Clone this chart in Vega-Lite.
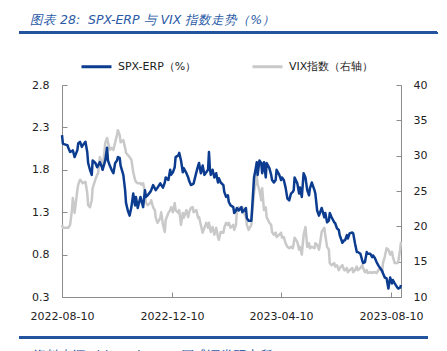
{
  "$schema": "https://vega.github.io/schema/vega-lite/v6.json",
  "width": 339,
  "height": 212,
  "autosize": "none",
  "padding": {"left": 62, "top": 85, "right": 46, "bottom": 54},
  "background": "white",
  "config": {"view": {"stroke": null}},
  "title": {"text": "图表 28: \u00a0SPX-ERP 与 VIX 指数走势（%）", "anchor": "start", "frame": "group", "dx": -32, "offset": 5, "font": "DejaVu Sans", "fontSize": 12.5, "fontStyle": "italic", "fontWeight": "normal", "color": "#2a5aa6"},
  "data": {"values": [
    {"date":"2022-08-10","erp":2.21,"vix":20.2},{"date":"2022-08-11","erp":2.11,"vix":19.8},{"date":"2022-08-13","erp":2.10,"vix":19.8},{"date":"2022-08-16","erp":2.09,"vix":19.8},{"date":"2022-08-17","erp":2.06,"vix":19.8},{"date":"2022-08-19","erp":2.01,"vix":20.2},{"date":"2022-08-21","erp":2.02,"vix":22.3},{"date":"2022-08-22","erp":2.03,"vix":24.0},{"date":"2022-08-24","erp":1.95,"vix":21.9},{"date":"2022-08-27","erp":2.03,"vix":25.1},{"date":"2022-08-28","erp":2.11,"vix":25.9},{"date":"2022-08-30","erp":2.13,"vix":26.6},
    {"date":"2022-09-01","erp":2.07,"vix":26.3},{"date":"2022-09-02","erp":2.09,"vix":26.1},{"date":"2022-09-05","erp":2.13,"vix":26.3},{"date":"2022-09-07","erp":2.01,"vix":24.7},{"date":"2022-09-08","erp":1.88,"vix":23.0},{"date":"2022-09-10","erp":1.80,"vix":22.7},{"date":"2022-09-12","erp":1.74,"vix":23.7},{"date":"2022-09-13","erp":1.91,"vix":25.4},{"date":"2022-09-16","erp":1.88,"vix":26.6},{"date":"2022-09-18","erp":1.83,"vix":27.3},{"date":"2022-09-19","erp":1.85,"vix":27.5},{"date":"2022-09-21","erp":1.89,"vix":29.8},{"date":"2022-09-23","erp":1.84,"vix":29.1},{"date":"2022-09-24","erp":1.80,"vix":28.0},{"date":"2022-09-27","erp":1.91,"vix":31.8},{"date":"2022-09-29","erp":2.06,"vix":32.5},{"date":"2022-09-30","erp":1.91,"vix":31.9},
    {"date":"2022-10-02","erp":1.85,"vix":30.8},{"date":"2022-10-04","erp":1.80,"vix":31.1},{"date":"2022-10-06","erp":1.76,"vix":30.8},{"date":"2022-10-08","erp":1.88,"vix":31.9},{"date":"2022-10-10","erp":1.91,"vix":32.9},{"date":"2022-10-11","erp":1.95,"vix":33.6},{"date":"2022-10-13","erp":1.94,"vix":32.9},{"date":"2022-10-14","erp":1.85,"vix":31.9},{"date":"2022-10-17","erp":1.74,"vix":32.2},{"date":"2022-10-19","erp":1.56,"vix":31.1},{"date":"2022-10-20","erp":1.41,"vix":30.4},{"date":"2022-10-22","erp":1.32,"vix":30.1},{"date":"2022-10-24","erp":1.26,"vix":29.8},{"date":"2022-10-26","erp":1.36,"vix":29.4},{"date":"2022-10-28","erp":1.52,"vix":27.7},{"date":"2022-10-30","erp":1.38,"vix":26.6},{"date":"2022-10-31","erp":1.48,"vix":26.3},
    {"date":"2022-11-02","erp":1.35,"vix":26.1},{"date":"2022-11-05","erp":1.48,"vix":26.1},{"date":"2022-11-06","erp":1.44,"vix":25.9},{"date":"2022-11-08","erp":1.36,"vix":26.1},{"date":"2022-11-10","erp":1.56,"vix":24.9},{"date":"2022-11-11","erp":1.48,"vix":23.4},{"date":"2022-11-13","erp":1.50,"vix":23.0},{"date":"2022-11-16","erp":1.54,"vix":23.3},{"date":"2022-11-17","erp":1.56,"vix":23.7},{"date":"2022-11-19","erp":1.62,"vix":22.7},{"date":"2022-11-21","erp":1.58,"vix":22.3},{"date":"2022-11-22","erp":1.56,"vix":21.2},{"date":"2022-11-24","erp":1.59,"vix":20.5},{"date":"2022-11-27","erp":1.64,"vix":21.2},{"date":"2022-11-28","erp":1.62,"vix":22.0},{"date":"2022-11-30","erp":1.59,"vix":20.2},
    {"date":"2022-12-02","erp":1.65,"vix":19.2},{"date":"2022-12-03","erp":1.71,"vix":20.9},{"date":"2022-12-06","erp":1.68,"vix":21.9},{"date":"2022-12-08","erp":1.80,"vix":22.3},{"date":"2022-12-09","erp":1.74,"vix":22.7},{"date":"2022-12-11","erp":1.77,"vix":22.0},{"date":"2022-12-13","erp":1.83,"vix":23.3},{"date":"2022-12-14","erp":1.95,"vix":22.3},{"date":"2022-12-17","erp":1.97,"vix":21.9},{"date":"2022-12-18","erp":2.00,"vix":22.3},{"date":"2022-12-20","erp":1.91,"vix":20.2},{"date":"2022-12-22","erp":1.77,"vix":21.9},{"date":"2022-12-23","erp":1.82,"vix":21.2},{"date":"2022-12-26","erp":1.76,"vix":22.3},{"date":"2022-12-28","erp":1.71,"vix":21.3},{"date":"2022-12-29","erp":1.67,"vix":22.0},{"date":"2022-12-31","erp":1.62,"vix":22.6},
    {"date":"2023-01-02","erp":1.63,"vix":22.7},{"date":"2023-01-03","erp":1.64,"vix":22.0},{"date":"2023-01-06","erp":1.77,"vix":22.3},{"date":"2023-01-08","erp":1.85,"vix":21.2},{"date":"2023-01-09","erp":1.88,"vix":21.3},{"date":"2023-01-11","erp":1.76,"vix":20.2},{"date":"2023-01-13","erp":1.85,"vix":19.1},{"date":"2023-01-15","erp":1.74,"vix":19.8},{"date":"2023-01-17","erp":1.77,"vix":20.5},{"date":"2023-01-19","erp":1.80,"vix":19.8},{"date":"2023-01-20","erp":2.01,"vix":20.5},{"date":"2023-01-21","erp":1.82,"vix":19.8},{"date":"2023-01-22","erp":1.74,"vix":19.2},{"date":"2023-01-24","erp":1.80,"vix":19.9},{"date":"2023-01-26","erp":1.71,"vix":18.8},{"date":"2023-01-28","erp":1.76,"vix":19.8},{"date":"2023-01-30","erp":1.65,"vix":18.5},{"date":"2023-01-31","erp":1.70,"vix":18.1},
    {"date":"2023-02-02","erp":1.65,"vix":19.2},{"date":"2023-02-05","erp":1.62,"vix":19.1},{"date":"2023-02-06","erp":1.54,"vix":19.8},{"date":"2023-02-08","erp":1.48,"vix":20.5},{"date":"2023-02-10","erp":1.50,"vix":20.2},{"date":"2023-02-11","erp":1.42,"vix":20.5},{"date":"2023-02-13","erp":1.38,"vix":19.8},{"date":"2023-02-16","erp":1.36,"vix":20.2},{"date":"2023-02-17","erp":1.29,"vix":19.5},{"date":"2023-02-19","erp":1.32,"vix":20.2},{"date":"2023-02-20","erp":1.35,"vix":22.3},{"date":"2023-02-22","erp":1.32,"vix":22.7},{"date":"2023-02-25","erp":1.36,"vix":22.3},{"date":"2023-02-26","erp":1.30,"vix":22.7},{"date":"2023-02-28","erp":1.32,"vix":21.9},
    {"date":"2023-03-02","erp":1.35,"vix":21.3},{"date":"2023-03-03","erp":1.23,"vix":20.2},{"date":"2023-03-05","erp":1.20,"vix":19.5},{"date":"2023-03-08","erp":1.20,"vix":20.2},{"date":"2023-03-09","erp":1.36,"vix":21.9},{"date":"2023-03-11","erp":1.71,"vix":24.7},{"date":"2023-03-13","erp":1.82,"vix":26.6},{"date":"2023-03-14","erp":1.89,"vix":27.3},{"date":"2023-03-15","erp":1.74,"vix":25.9},{"date":"2023-03-17","erp":1.91,"vix":25.1},{"date":"2023-03-19","erp":1.88,"vix":23.7},{"date":"2023-03-20","erp":1.76,"vix":25.4},{"date":"2023-03-22","erp":1.89,"vix":22.3},{"date":"2023-03-24","erp":1.71,"vix":22.7},{"date":"2023-03-25","erp":1.88,"vix":21.3},{"date":"2023-03-28","erp":1.82,"vix":20.5},{"date":"2023-03-30","erp":1.74,"vix":20.2},{"date":"2023-03-31","erp":1.68,"vix":19.2},
    {"date":"2023-04-02","erp":1.65,"vix":18.8},{"date":"2023-04-04","erp":1.68,"vix":19.1},{"date":"2023-04-05","erp":1.80,"vix":18.5},{"date":"2023-04-08","erp":1.74,"vix":18.8},{"date":"2023-04-10","erp":1.68,"vix":19.1},{"date":"2023-04-11","erp":1.71,"vix":18.4},{"date":"2023-04-13","erp":1.68,"vix":18.5},{"date":"2023-04-15","erp":1.59,"vix":17.6},{"date":"2023-04-17","erp":1.46,"vix":17.1},{"date":"2023-04-19","erp":1.44,"vix":16.9},{"date":"2023-04-21","erp":1.52,"vix":17.1},{"date":"2023-04-23","erp":1.54,"vix":16.9},{"date":"2023-04-24","erp":1.56,"vix":17.6},{"date":"2023-04-25","erp":1.71,"vix":18.4},{"date":"2023-04-28","erp":1.64,"vix":17.8},{"date":"2023-04-30","erp":1.52,"vix":16.7},
    {"date":"2023-05-01","erp":1.59,"vix":17.1},{"date":"2023-05-03","erp":1.48,"vix":16.0},{"date":"2023-05-05","erp":1.76,"vix":18.8},{"date":"2023-05-07","erp":1.71,"vix":19.9},{"date":"2023-05-09","erp":1.56,"vix":17.1},{"date":"2023-05-11","erp":1.50,"vix":17.6},{"date":"2023-05-12","erp":1.58,"vix":16.9},{"date":"2023-05-14","erp":1.65,"vix":17.1},{"date":"2023-05-17","erp":1.56,"vix":16.9},{"date":"2023-05-18","erp":1.52,"vix":17.6},{"date":"2023-05-20","erp":1.32,"vix":17.4},{"date":"2023-05-22","erp":1.26,"vix":16.7},{"date":"2023-05-23","erp":1.29,"vix":17.4},{"date":"2023-05-25","erp":1.35,"vix":19.2},{"date":"2023-05-28","erp":1.24,"vix":19.8},{"date":"2023-05-29","erp":1.29,"vix":18.8},{"date":"2023-05-31","erp":1.18,"vix":17.1},
    {"date":"2023-06-02","erp":1.20,"vix":16.7},{"date":"2023-06-03","erp":1.29,"vix":14.8},{"date":"2023-06-05","erp":1.24,"vix":14.5},{"date":"2023-06-08","erp":1.18,"vix":14.8},{"date":"2023-06-09","erp":1.17,"vix":14.3},{"date":"2023-06-11","erp":1.11,"vix":14.5},{"date":"2023-06-13","erp":1.09,"vix":13.8},{"date":"2023-06-14","erp":1.03,"vix":14.1},{"date":"2023-06-17","erp":0.94,"vix":14.5},{"date":"2023-06-19","erp":0.97,"vix":13.8},{"date":"2023-06-20","erp":0.97,"vix":13.8},{"date":"2023-06-22","erp":1.03,"vix":14.1},{"date":"2023-06-23","erp":0.99,"vix":13.5},{"date":"2023-06-25","erp":1.05,"vix":13.8},{"date":"2023-06-28","erp":1.06,"vix":14.1},{"date":"2023-06-29","erp":1.05,"vix":13.5},
    {"date":"2023-07-01","erp":0.93,"vix":13.8},{"date":"2023-07-03","erp":0.83,"vix":14.3},{"date":"2023-07-04","erp":0.83,"vix":13.8},{"date":"2023-07-07","erp":0.81,"vix":14.1},{"date":"2023-07-09","erp":0.73,"vix":14.5},{"date":"2023-07-10","erp":0.70,"vix":14.1},{"date":"2023-07-12","erp":0.71,"vix":13.5},{"date":"2023-07-14","erp":0.83,"vix":13.8},{"date":"2023-07-15","erp":0.81,"vix":13.4},{"date":"2023-07-18","erp":0.81,"vix":13.5},{"date":"2023-07-20","erp":0.77,"vix":13.4},{"date":"2023-07-21","erp":0.79,"vix":13.5},{"date":"2023-07-23","erp":0.76,"vix":13.5},{"date":"2023-07-25","erp":0.71,"vix":13.4},{"date":"2023-07-27","erp":0.67,"vix":13.8},{"date":"2023-07-29","erp":0.64,"vix":14.1},{"date":"2023-07-31","erp":0.61,"vix":13.5},
    {"date":"2023-08-01","erp":0.58,"vix":14.8},{"date":"2023-08-03","erp":0.53,"vix":15.7},{"date":"2023-08-05","erp":0.52,"vix":16.9},{"date":"2023-08-07","erp":0.40,"vix":16.7},{"date":"2023-08-09","erp":0.53,"vix":16.0},{"date":"2023-08-11","erp":0.46,"vix":16.4},{"date":"2023-08-12","erp":0.50,"vix":15.7},{"date":"2023-08-14","erp":0.46,"vix":14.8},{"date":"2023-08-17","erp":0.41,"vix":14.8},{"date":"2023-08-18","erp":0.40,"vix":15.0},{"date":"2023-08-20","erp":0.41,"vix":16.7},{"date":"2023-08-21","erp":0.44,"vix":17.8}
  ]},
  "layer": [
    {
      "mark": {"type": "line", "strokeWidth": 2.5, "strokeJoin": "round"},
      "encoding": {
        "x": {"field": "date", "type": "temporal",
          "scale": {"type": "utc", "domain": [{"year": 2022, "month": 8, "date": 10, "utc": true}, {"year": 2023, "month": 8, "date": 21, "utc": true}]},
          "axis": {"values": [{"year": 2022, "month": 8, "date": 10, "utc": true}, {"year": 2022, "month": 12, "date": 10, "utc": true}, {"year": 2023, "month": 4, "date": 10, "utc": true}, {"year": 2023, "month": 8, "date": 10, "utc": true}],
            "format": "%Y-%m-%d", "grid": false, "domainColor": "#8c8c8c", "tickColor": "#8c8c8c", "tickSize": -5, "labelPadding": 18,
            "labelFont": "DejaVu Sans", "labelFontSize": 11, "labelColor": "#222222", "labelFlush": false, "labelOverlap": false,
            "title": "资料来源：bloomberg，国盛证券研究所", "titleX": -32, "titleY": 62, "titleAlign": "left", "titleBaseline": "alphabetic",
            "titleFont": "DejaVu Sans", "titleFontSize": 13, "titleFontStyle": "italic", "titleFontWeight": "normal", "titleColor": "#2a5aa6"}},
        "y": {"field": "vix", "type": "quantitative",
          "scale": {"domain": [10, 40], "nice": false, "zero": false},
          "axis": {"orient": "right", "values": [10, 15, 20, 25, 30, 35, 40], "grid": false, "domainColor": "#8c8c8c", "tickColor": "#8c8c8c", "tickSize": -5, "labelPadding": 17,
            "labelFont": "DejaVu Sans", "labelFontSize": 11, "labelColor": "#222222", "title": null}},
        "color": {"datum": "VIX指数（右轴）"}
      }
    },
    {
      "layer": [
        {
          "mark": {"type": "line", "strokeWidth": 2.5, "strokeJoin": "round"},
          "encoding": {
            "x": {"field": "date", "type": "temporal"},
            "y": {"field": "erp", "type": "quantitative",
              "scale": {"domain": [0.3, 2.8], "nice": false, "zero": false},
              "axis": {"orient": "left", "values": [0.3, 0.8, 1.3, 1.8, 2.3, 2.8], "format": ".1f", "grid": false, "domainColor": "#8c8c8c", "tickColor": "#8c8c8c", "tickSize": -5, "labelPadding": 18,
                "labelFont": "DejaVu Sans", "labelFontSize": 11, "labelColor": "#222222", "title": null}},
            "color": {"datum": "SPX-ERP（%）",
              "scale": {"domain": ["SPX-ERP（%）", "VIX指数（右轴）"], "range": ["#0b3c8f", "#c9c9c9"]},
              "legend": {"orient": "none", "legendX": 18, "legendY": -35, "direction": "horizontal", "title": null,
                "symbolType": "stroke", "symbolSize": 900, "symbolStrokeWidth": 3, "labelFont": "DejaVu Sans", "labelFontSize": 11, "labelColor": "#222222",
                "labelOffset": 5, "columnPadding": 49}}
          }
        },
        {
          "mark": {"type": "rule", "color": "#24539e", "strokeWidth": 2},
          "encoding": {
            "x": {"datum": {"year": 2022, "month": 6, "date": 24, "utc": true}, "type": "temporal"},
            "x2": {"datum": {"year": 2023, "month": 9, "date": 30, "utc": true}},
            "y": {"datum": 3.415, "type": "quantitative"}
          }
        },
        {
          "mark": {"type": "rule", "color": "#24539e", "strokeWidth": 2},
          "encoding": {
            "x": {"datum": {"year": 2022, "month": 6, "date": 24, "utc": true}, "type": "temporal"},
            "x2": {"datum": {"year": 2023, "month": 9, "date": 19, "utc": true}},
            "y": {"datum": -0.18, "type": "quantitative"}
          }
        }
      ]
    }
  ],
  "resolve": {"scale": {"y": "independent"}}
}
